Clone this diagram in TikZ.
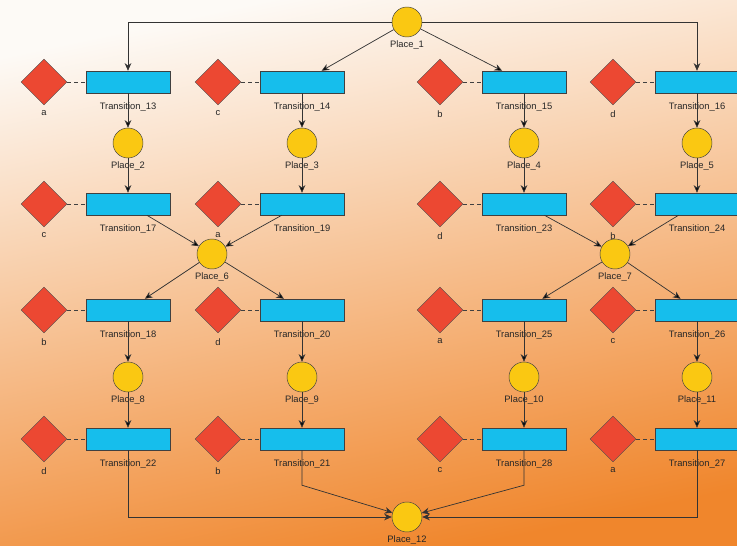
\documentclass[tikz,border=0pt]{standalone}
\usepackage{fontspec}
\setsansfont{Liberation Sans}
\usetikzlibrary{shapes.geometric,arrows.meta}

\definecolor{bgtop}{RGB}{253,250,246}
\definecolor{bgmid}{RGB}{250,220,192}
\definecolor{bgbot}{RGB}{240,134,44}
\definecolor{transcyan}{RGB}{22,190,236}
\definecolor{placegold}{RGB}{250,200,18}
\definecolor{guardred}{RGB}{236,72,50}

\begin{document}
\begin{tikzpicture}[x=0.3mm,y=-0.3mm,->,>={Stealth[length=2.3mm,width=2mm]},node distance=25.2mm,
  every label/.style={font=\sffamily\fontsize{8}{9}\selectfont,text=black!85},
  trans/.style={rectangle,draw=black!75,fill=transcyan,minimum width=25.2mm,minimum height=6.6mm,inner sep=0pt,label={[label distance=1.5mm]below:#1}},
  place/.style={circle,draw=black!75,fill=placegold,minimum size=9mm,inner sep=0pt,label={[label distance=-0.3mm]below:#1}},
  guard/.style={diamond,draw=black!70,fill=guardred,minimum size=13.8mm,inner sep=0pt,label={[label distance=0.3mm]below:#1}},
  arc line/.style={draw=black!80,line width=0.6pt},
  guard line/.style={-,draw=black!75,dashed,line width=0.6pt}]

  \useasboundingbox (0,0) rectangle (737,546);
  \shade[top color=bgtop,middle color=bgmid,bottom color=bgbot,shading angle=12] (0,0) rectangle (737,546);

  \node[place=Place\_1] (p1) at (407,22) {};

  % first row
  \node[trans=Transition\_13] (t13) at (128,82) {};
  \node[trans=Transition\_14] (t14) at (302,82) {};
  \node[trans=Transition\_15] (t15) at (524,82) {};
  \node[trans=Transition\_16] (t16) at (697,82) {};
  \node[guard=a] (g13) [left of=t13] {};
  \node[guard=c] (g14) [left of=t14] {};
  \node[guard=b] (g15) [left of=t15] {};
  \node[guard=d] (g16) [left of=t16] {};

  \node[place=Place\_2] (p2) at (128,143) {};
  \node[place=Place\_3] (p3) at (302,143) {};
  \node[place=Place\_4] (p4) at (524,143) {};
  \node[place=Place\_5] (p5) at (697,143) {};

  % second row
  \node[trans=Transition\_17] (t17) at (128,204) {};
  \node[trans=Transition\_19] (t19) at (302,204) {};
  \node[trans=Transition\_23] (t23) at (524,204) {};
  \node[trans=Transition\_24] (t24) at (697,204) {};
  \node[guard=c] (g17) [left of=t17] {};
  \node[guard=a] (g19) [left of=t19] {};
  \node[guard=d] (g23) [left of=t23] {};
  \node[guard=b] (g24) [left of=t24] {};

  \node[place=Place\_6] (p6) at (212,254) {};
  \node[place=Place\_7] (p7) at (615,254) {};

  % third row
  \node[trans=Transition\_18] (t18) at (128,310) {};
  \node[trans=Transition\_20] (t20) at (302,310) {};
  \node[trans=Transition\_25] (t25) at (524,310) {};
  \node[trans=Transition\_26] (t26) at (697,310) {};
  \node[guard=b] (g18) [left of=t18] {};
  \node[guard=d] (g20) [left of=t20] {};
  \node[guard=a] (g25) [left of=t25] {};
  \node[guard=c] (g26) [left of=t26] {};

  \node[place=Place\_8] (p8) at (128,377) {};
  \node[place=Place\_9] (p9) at (302,377) {};
  \node[place=Place\_10] (p10) at (524,377) {};
  \node[place=Place\_11] (p11) at (697,377) {};

  % fourth row
  \node[trans=Transition\_22] (t22) at (128,439) {};
  \node[trans=Transition\_21] (t21) at (302,439) {};
  \node[trans=Transition\_28] (t28) at (524,439) {};
  \node[trans=Transition\_27] (t27) at (697,439) {};
  \node[guard=d] (g22) [left of=t22] {};
  \node[guard=b] (g21) [left of=t21] {};
  \node[guard=c] (g28) [left of=t28] {};
  \node[guard=a] (g27) [left of=t27] {};

  \node[place=Place\_12] (p12) at (407,517) {};

  \path[guard line]
    (g13) edge (t13) (g14) edge (t14) (g15) edge (t15) (g16) edge (t16)
    (g17) edge (t17) (g19) edge (t19) (g23) edge (t23) (g24) edge (t24)
    (g18) edge (t18) (g20) edge (t20) (g25) edge (t25) (g26) edge (t26)
    (g22) edge (t22) (g21) edge (t21) (g28) edge (t28) (g27) edge (t27);

  \draw[arc line] (p1) -| (t13);
  \draw[arc line] (p1) -| (t16);
  \path[arc line]
    (p1)  edge (t14)
          edge (t15)
    (t13) edge (p2)  (t14) edge (p3)  (t15) edge (p4)  (t16) edge (p5)
    (p2)  edge (t17) (p3)  edge (t19) (p4)  edge (t23) (p5)  edge (t24)
    (t17) edge (p6)  (t19) edge (p6)  (t23) edge (p7)  (t24) edge (p7)
    (p6)  edge (t18)
          edge (t20)
    (p7)  edge (t25)
          edge (t26)
    (t18) edge (p8)  (t20) edge (p9)  (t25) edge (p10) (t26) edge (p11)
    (p8)  edge (t22) (p9)  edge (t21) (p10) edge (t28) (p11) edge (t27);
  \draw[arc line] (t22) |- (p12);
  \draw[arc line] (t27) |- (p12);
  \draw[arc line] (t21.south) -- ++(0,35) -- (p12);
  \draw[arc line] (t28.south) -- ++(0,35) -- (p12);
\end{tikzpicture}
\end{document}
